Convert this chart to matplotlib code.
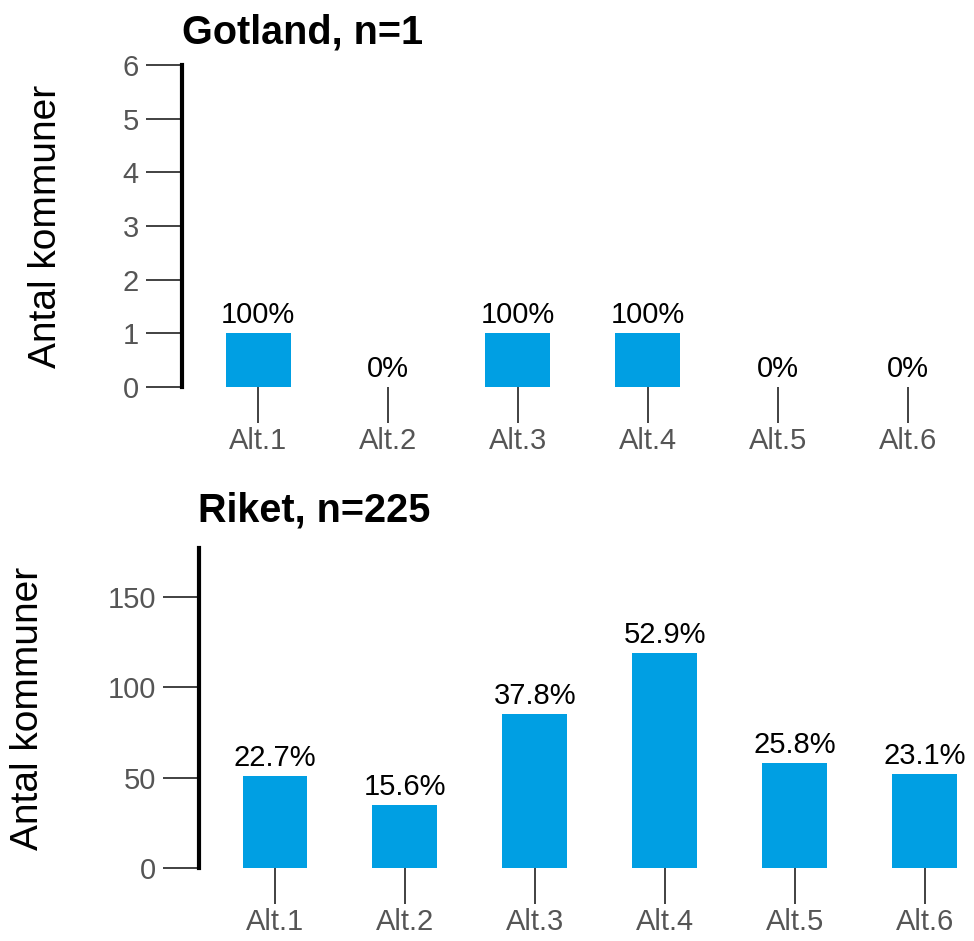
import matplotlib.pyplot as plt

plt.rcParams['font.family'] = ['Liberation Sans', 'DejaVu Sans']

# Data
categories = ['Alt.1', 'Alt.2', 'Alt.3', 'Alt.4', 'Alt.5', 'Alt.6']

gotland_title = 'Gotland, n=1'
gotland_counts = [1, 0, 1, 1, 0, 0]
gotland_pct = ['100%', '0%', '100%', '100%', '0%', '0%']

riket_title = 'Riket, n=225'
riket_counts = [51, 35, 85, 119, 58, 52]
riket_pct = ['22.7%', '15.6%', '37.8%', '52.9%', '25.8%', '23.1%']

W, H = 974, 941
fig = plt.figure(figsize=(W / 100, H / 100), dpi=100)

bar_color = '#009FE3'


def panel(rect, counts, pcts, title, yticks, ylim, xright, title_xy, ylabel_x):
    ax = fig.add_axes(rect)
    x = range(len(categories))
    bars = ax.bar(x, counts, width=0.5, color=bar_color)
    for b, lab in zip(bars, pcts):
        ax.annotate(lab, (b.get_x() + b.get_width() / 2, b.get_height()),
                    xytext=(0, 3), textcoords='offset points',
                    ha='center', va='bottom', fontsize=21, color='black')
    ax.set_xlim(-0.585, xright)
    ax.set_ylim(*ylim)
    ax.set_yticks(yticks)
    ax.set_xticks(list(x))
    ax.set_xticklabels(categories)
    for s in ['top', 'right', 'bottom']:
        ax.spines[s].set_visible(False)
    ax.spines['left'].set_linewidth(3)
    ax.spines['left'].set_color('black')
    ax.tick_params(axis='both', length=26, width=1.3, color='#333333',
                   labelsize=21, labelcolor='#555555')
    ax.tick_params(axis='x', pad=3)
    ax.tick_params(axis='y', pad=5)
    fig.text(title_xy[0] / W, 1 - title_xy[1] / H, title, fontsize=28.5,
             fontweight='bold', ha='left', va='baseline')
    cy = 1 - ((rect[1] + rect[3] / 2))
    fig.text(ylabel_x / W, rect[1] + rect[3] / 2, 'Antal kommuner', rotation=90,
             fontsize=28, ha='center', va='center')
    return ax


panel([182 / W, 1 - 387 / H, 1 - 182 / W, (387 - 65) / H],
      gotland_counts, gotland_pct, gotland_title, range(0, 7), (0, 6), 5.51,
      (182, 43), 46)

panel([199 / W, 1 - 868 / H, 1 - 199 / W, (868 - 548) / H],
      riket_counts, riket_pct, riket_title, [0, 50, 100, 150], (0, 177), 5.38,
      (198, 522), 28)

fig.savefig('out.png', dpi=100)
